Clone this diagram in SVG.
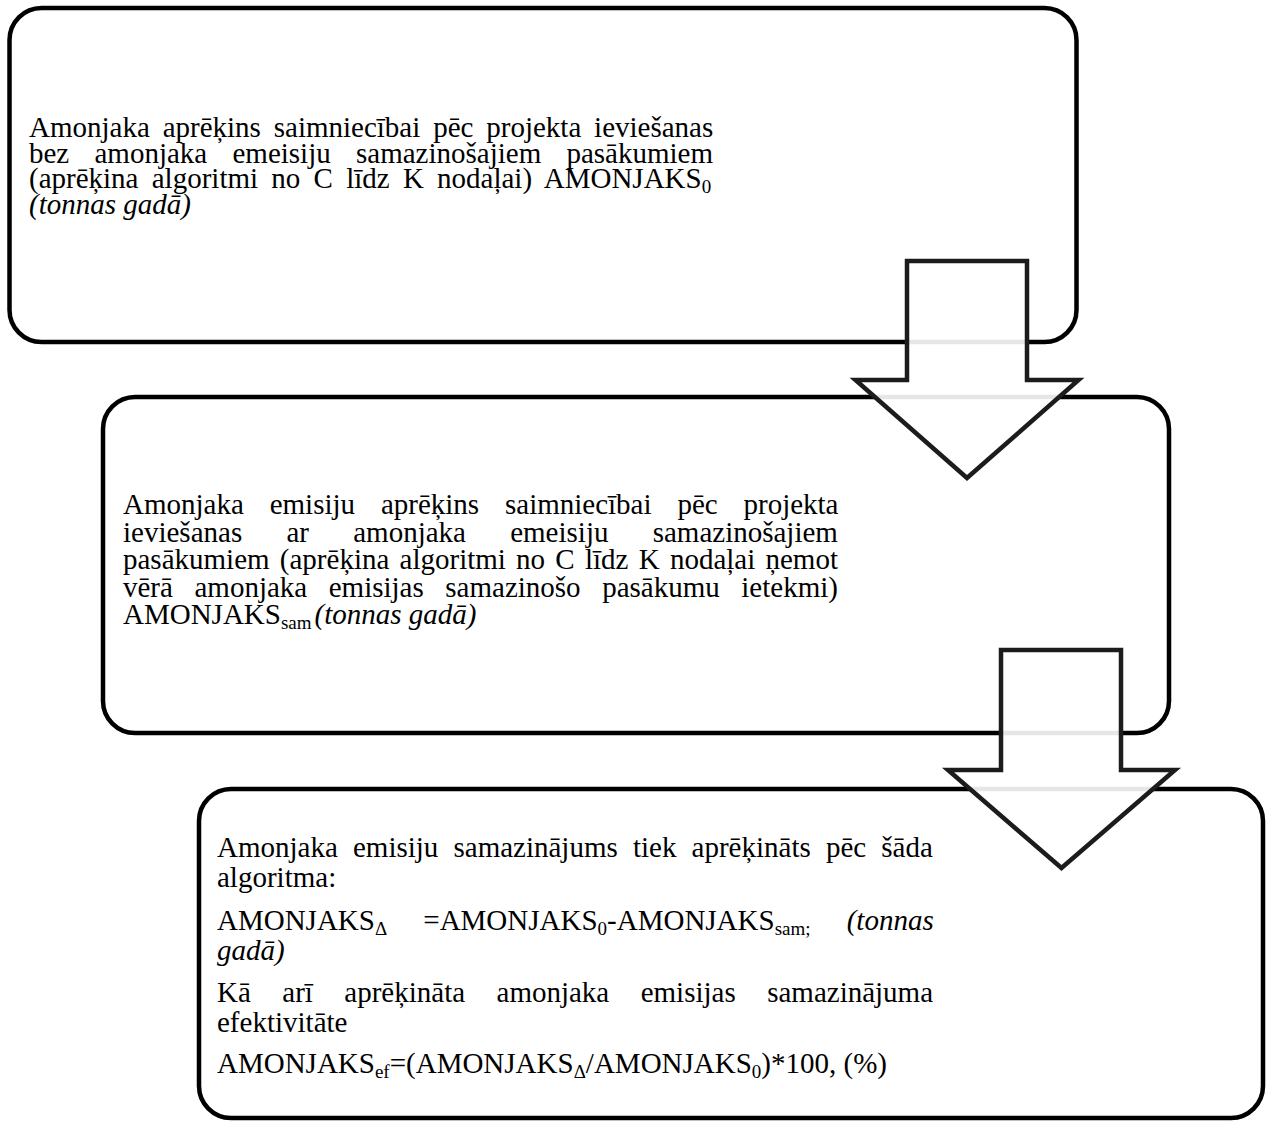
<svg xmlns="http://www.w3.org/2000/svg" width="1267" height="1122" viewBox="0 0 1267 1122">
<style>
.box{fill:#fff;stroke:#000;stroke-width:4.5}
.arrow{fill:#fff;fill-opacity:0.9;stroke:#1c1c1c;stroke-width:4.5;stroke-linejoin:miter}
text{font-family:"Liberation Serif","Times New Roman",serif;font-size:29px;fill:#000}
.it{font-style:italic}
.sub{font-size:19px}
</style>
<rect width="1267" height="1122" fill="#fff"/>
<g id="node1">
<rect class="box" x="9.5" y="8" width="1067" height="334" rx="32" ry="32"/>
<text x="29" y="137" style="word-spacing:5.6px">Amonjaka aprēķins saimniecībai pēc projekta ieviešanas</text>
<text x="29" y="162.5" style="word-spacing:18px">bez amonjaka emeisiju samazinošajiem pasākumiem</text>
<text x="29" y="188" style="word-spacing:6px">(aprēķina algoritmi no C līdz K nodaļai) AMONJAKS<tspan class="sub" dy="5">0</tspan></text>
<text x="29" y="213.5" class="it">(tonnas gadā)</text>
</g>
<g id="node2">
<rect class="box" x="103" y="397" width="1066" height="336" rx="32" ry="32"/>
<text x="123" y="514" style="word-spacing:18.6px">Amonjaka emisiju aprēķins saimniecībai pēc projekta</text>
<text x="123" y="541.5" style="word-spacing:37px">ieviešanas ar amonjaka emeisiju samazinošajiem</text>
<text x="123" y="569" style="word-spacing:3px">pasākumiem (aprēķina algoritmi no C līdz K nodaļai ņemot</text>
<text x="123" y="596.5" style="word-spacing:14.3px">vērā amonjaka emisijas samazinošo pasākumu ietekmi)</text>
<text x="123" y="624">AMONJAKS<tspan class="sub" dy="5">sam</tspan><tspan class="it" dx="3" dy="-5">(tonnas gadā)</tspan></text>
</g>
<g id="node3">
<rect class="box" x="199" y="789" width="1064" height="329" rx="32" ry="32"/>
<text x="217" y="857" style="word-spacing:7.9px">Amonjaka emisiju samazinājums tiek aprēķināts pēc šāda</text>
<text x="217" y="887">algoritma:</text>
<text x="217" y="930" style="word-spacing:28.9px">AMONJAKS<tspan class="sub" dy="5">Δ</tspan><tspan dy="-5"> =AMONJAKS</tspan><tspan class="sub" dy="5">0</tspan><tspan dy="-5">-AMONJAKS</tspan><tspan class="sub" dy="5">sam;</tspan><tspan class="it" dy="-5"> (tonnas</tspan></text>
<text x="217" y="960" class="it">gadā)</text>
<text x="217" y="1002" style="word-spacing:24.2px">Kā arī aprēķināta amonjaka emisijas samazinājuma</text>
<text x="217" y="1032">efektivitāte</text>
<text x="217" y="1073">AMONJAKS<tspan class="sub" dy="5">ef</tspan><tspan dy="-5">=(AMONJAKS</tspan><tspan class="sub" dy="5">Δ</tspan><tspan dy="-5">/AMONJAKS</tspan><tspan class="sub" dy="5">0</tspan><tspan dy="-5">)*100, (%)</tspan></text>
</g>
<g id="connectors">
<polygon class="arrow" points="907,261 1027,261 1027,380 1078.5,380 967,478 855.5,380 907,380"/>
<polygon class="arrow" points="1001,650 1121,650 1121,770 1175,770 1061.5,868 948,770 1001,770"/>
</g>
</svg>
